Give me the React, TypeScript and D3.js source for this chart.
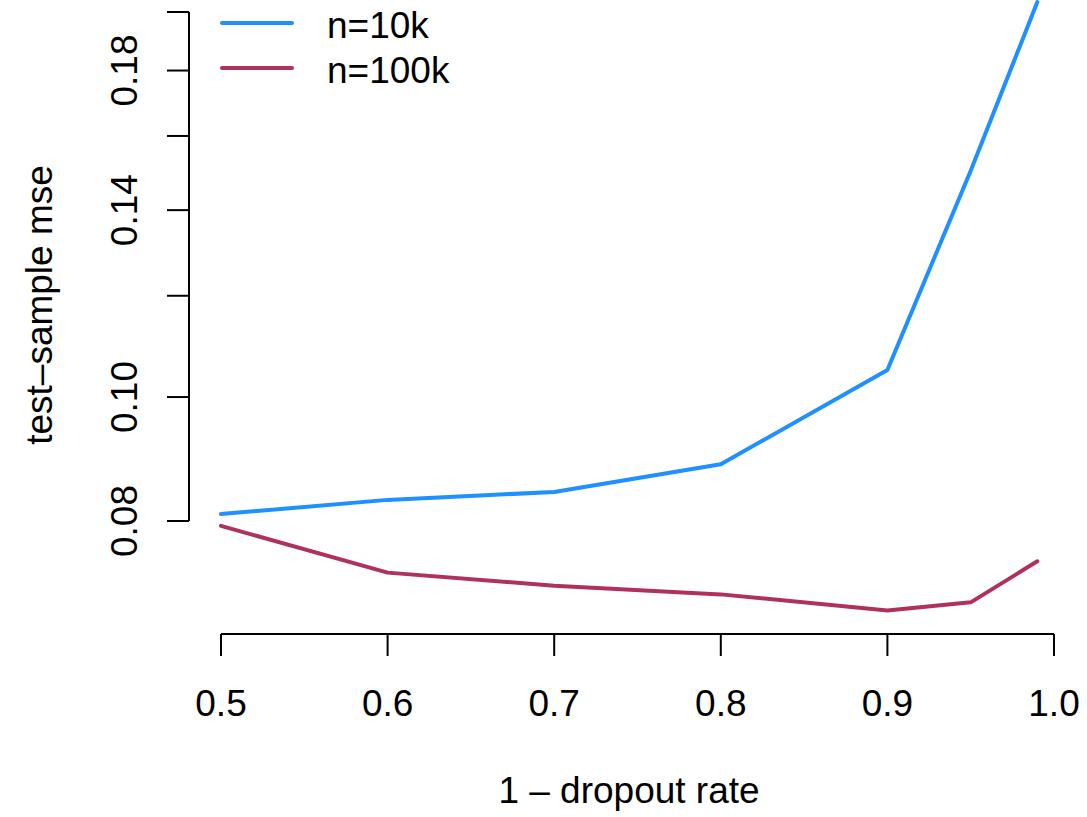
import React, { useEffect, useRef } from "react";
import * as d3 from "d3";

const width = 1087;
const height = 817;

// x values: 1 - dropout rate
const keepRates = [0.5, 0.6, 0.7, 0.8, 0.9, 0.95, 0.99];
// test-sample mse (log y axis)
const mse10k = [0.081, 0.0831, 0.0843, 0.0886, 0.105, 0.1503, 0.2036];
const mse100k = [0.0793, 0.0729, 0.0712, 0.0701, 0.0681, 0.0691, 0.0744];

const seriesNames = ["n=10k", "n=100k"];
const seriesColors = ["#1E90FF", "#B03060"];

const xTicks = [0.5, 0.6, 0.7, 0.8, 0.9, 1.0];
const yTicks = [0.08, 0.1, 0.12, 0.14, 0.16, 0.18, 0.2];
// R drops labels that would overlap
const yLabelled = [0.08, 0.1, 0.14, 0.18];

const font = "'Liberation Sans', Arial, Helvetica, sans-serif";
const fontSize = 37;

const Chart = () => {
  const ref = useRef(null);

  useEffect(() => {
    const svg = d3.select(ref.current);
    svg.selectAll("*").remove();

    const x = d3.scaleLinear().domain([0.5, 1.0]).range([221, 1054]);
    const y = d3.scaleLog().domain([0.08, 0.2]).range([521, 12]);

    const axisX = 634; // y position of bottom axis
    const axisY = 189; // x position of left axis
    const tick = 22;

    // bottom axis
    const bottom = svg.append("g").attr("stroke", "black").attr("stroke-width", 2);
    bottom
      .append("line")
      .attr("x1", x(xTicks[0]))
      .attr("x2", x(xTicks[xTicks.length - 1]))
      .attr("y1", axisX)
      .attr("y2", axisX);
    bottom
      .selectAll(".xt")
      .data(xTicks)
      .enter()
      .append("line")
      .attr("x1", (d) => x(d))
      .attr("x2", (d) => x(d))
      .attr("y1", axisX)
      .attr("y2", axisX + tick);
    svg
      .selectAll(".xl")
      .data(xTicks)
      .enter()
      .append("text")
      .attr("x", (d) => x(d))
      .attr("y", 716)
      .attr("text-anchor", "middle")
      .attr("font-family", font)
      .attr("font-size", fontSize)
      .text((d) => d.toFixed(1));

    // left axis
    const left = svg.append("g").attr("stroke", "black").attr("stroke-width", 2);
    left
      .append("line")
      .attr("x1", axisY)
      .attr("x2", axisY)
      .attr("y1", y(yTicks[0]))
      .attr("y2", y(yTicks[yTicks.length - 1]));
    left
      .selectAll(".yt")
      .data(yTicks)
      .enter()
      .append("line")
      .attr("x1", axisY - tick)
      .attr("x2", axisY)
      .attr("y1", (d) => y(d))
      .attr("y2", (d) => y(d));
    svg
      .selectAll(".yl")
      .data(yLabelled)
      .enter()
      .append("text")
      .attr("transform", (d) => `translate(137,${y(d)}) rotate(-90)`)
      .attr("text-anchor", "middle")
      .attr("font-family", font)
      .attr("font-size", fontSize)
      .text((d) => d.toFixed(2));

    // axis titles
    svg
      .append("text")
      .attr("x", 629)
      .attr("y", 803)
      .attr("text-anchor", "middle")
      .attr("font-family", font)
      .attr("font-size", fontSize)
      .text("1 \u2013 dropout rate");
    svg
      .append("text")
      .attr("transform", "translate(52,305) rotate(-90)")
      .attr("text-anchor", "middle")
      .attr("font-family", font)
      .attr("font-size", fontSize)
      .text("test\u2013sample mse");

    // lines
    const line = d3
      .line<number>()
      .x((_, i) => x(keepRates[i]))
      .y((d) => y(d));

    [mse10k, mse100k].forEach((values, i) => {
      svg
        .append("path")
        .datum(values)
        .attr("d", line)
        .attr("fill", "none")
        .attr("stroke", seriesColors[i])
        .attr("stroke-width", 4)
        .attr("stroke-linejoin", "round")
        .attr("stroke-linecap", "round");
    });

    // legend
    const legend = svg.append("g");
    seriesNames.forEach((name, i) => {
      const ly = 23 + i * 45;
      legend
        .append("line")
        .attr("x1", 222)
        .attr("x2", 292)
        .attr("y1", ly)
        .attr("y2", ly)
        .attr("stroke", seriesColors[i])
        .attr("stroke-width", 4)
        .attr("stroke-linecap", "round");
      legend
        .append("text")
        .attr("x", 327)
        .attr("y", ly + 15)
        .attr("font-family", font)
        .attr("font-size", fontSize)
        .text(name);
    });
  }, []);

  return (
    <svg
      ref={ref}
      width={width}
      height={height}
      style={{ position: "absolute", left: 0, top: 0, background: "white" }}
    />
  );
};

export default function App() {
  return <Chart />;
}
